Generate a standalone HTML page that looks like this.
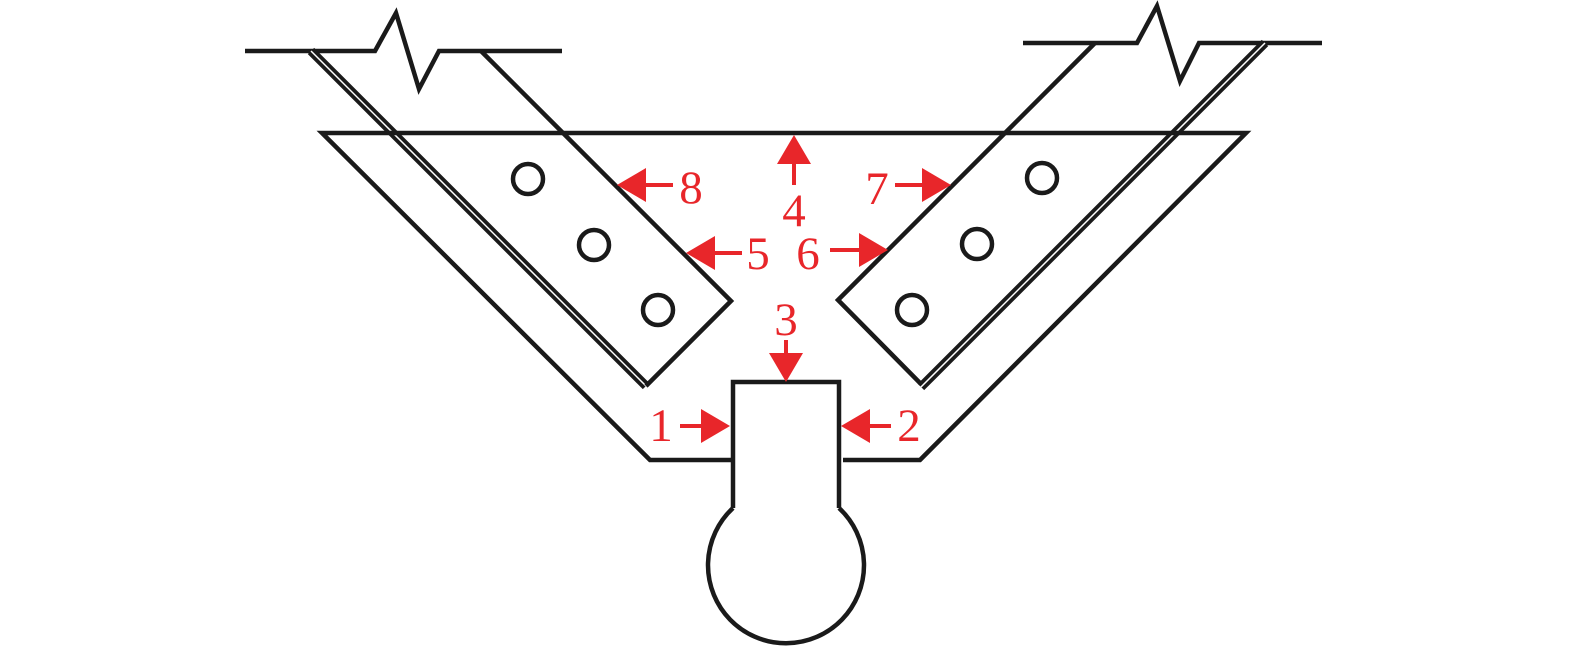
<!DOCTYPE html>
<html><head><meta charset="utf-8"><style>html,body{margin:0;padding:0;background:#fff}svg{display:block}</style></head>
<body>
<svg width="1575" height="646" viewBox="0 0 1575 646" xmlns="http://www.w3.org/2000/svg">
<g fill="none" stroke="#1a1a1a" stroke-width="4.5" stroke-linejoin="miter">
<polyline points="245,51 375,51 396,13 419,89 439,51 562,51"/>
<line x1="311" y1="51" x2="646" y2="386" stroke-width="9"/>
<line x1="311" y1="51" x2="646" y2="386" stroke="#fff" stroke-width="1.5"/>
<polyline points="481,51 731,301 646,386"/>
<polyline points="1023,43 1137,43 1157,6 1180,81 1199,43 1322,43"/>
<line x1="1265" y1="43" x2="921" y2="387" stroke-width="9"/>
<line x1="1265" y1="43" x2="921" y2="387" stroke="#fff" stroke-width="1.5"/>
<polyline points="1095,43 838,300 921,384"/>
<polyline points="733,460 650,460 322,133 1246,133 920,460 843,460"/>
<polyline points="733,508 733,382 839,382 839,508"/>
<path d="M733,508 A78,78 0 1 0 839,508"/>
<circle cx="528" cy="179" r="15"/><circle cx="594" cy="245" r="15"/><circle cx="658" cy="310" r="15"/>
<circle cx="1042" cy="178" r="15"/><circle cx="977" cy="244" r="15"/><circle cx="912" cy="310" r="15"/>
</g>
<g fill="#e8262a" stroke="#e8262a">
<line x1="640" y1="185" x2="673" y2="185" stroke-width="4"/><polygon points="617,185 646,168 646,202" stroke="none"/>
<line x1="710" y1="253" x2="742" y2="253" stroke-width="4"/><polygon points="686,253 715,236 715,270" stroke="none"/>
<line x1="830" y1="250" x2="862" y2="250" stroke-width="4"/><polygon points="888,250 859,233 859,267" stroke="none"/>
<line x1="895" y1="185" x2="925" y2="185" stroke-width="4"/><polygon points="951,185 922,168 922,202" stroke="none"/>
<line x1="794" y1="160" x2="794" y2="185" stroke-width="4"/><polygon points="794,135 777,164 811,164" stroke="none"/>
<line x1="786" y1="340" x2="786" y2="360" stroke-width="4"/><polygon points="786,382 769,353 803,353" stroke="none"/>
<line x1="680" y1="426" x2="705" y2="426" stroke-width="4"/><polygon points="730,426 701,409 701,443" stroke="none"/>
<line x1="865" y1="426" x2="891" y2="426" stroke-width="4"/><polygon points="841,426 870,409 870,443" stroke="none"/>
</g>
<g fill="#e8262a" font-family="Liberation Serif, serif" font-size="47" text-anchor="middle">
<text x="691" y="203">8</text>
<text x="758" y="269">5</text>
<text x="808" y="269">6</text>
<text x="877" y="204">7</text>
<text x="794" y="226">4</text>
<text x="786" y="335">3</text>
<text x="661" y="441">1</text>
<text x="909" y="441">2</text>
</g>
</svg>
</body></html>
